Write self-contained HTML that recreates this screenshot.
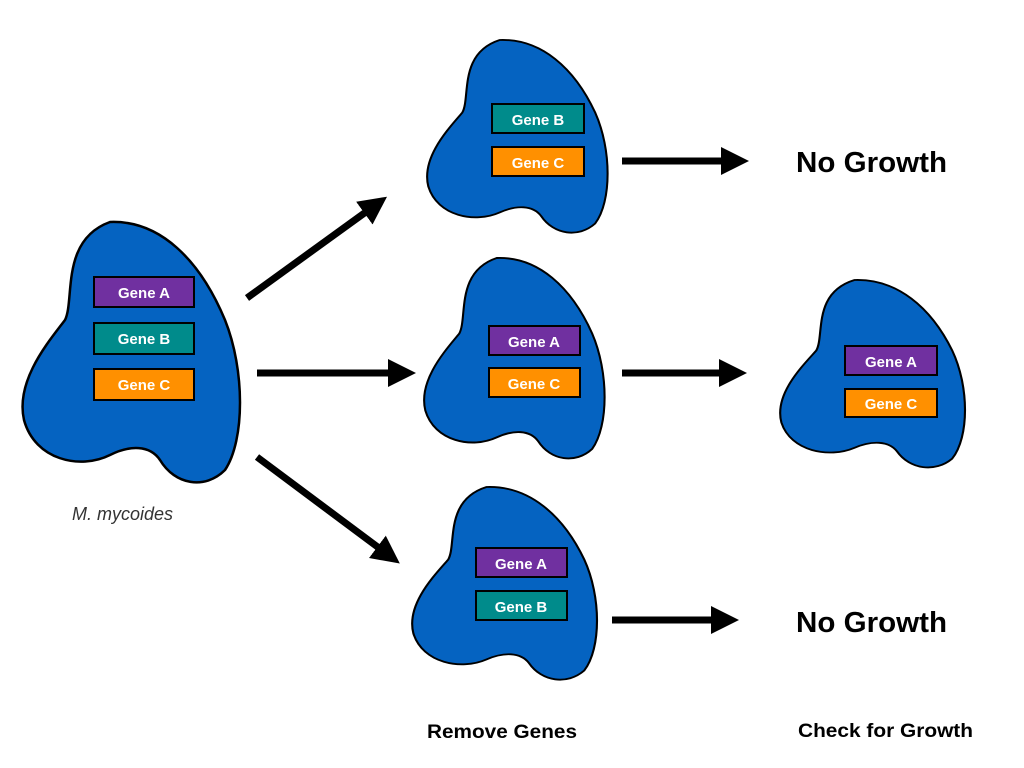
<!DOCTYPE html>
<html><head><style>body{margin:0;background:#fff}svg{display:block}</style></head><body>
<svg width="1024" height="768" viewBox="0 0 1024 768" xmlns="http://www.w3.org/2000/svg" font-family="Liberation Sans, sans-serif">
<defs>
<path id="b" d="M90 0 C140 -2 180 38 205 98 C225 148 225 218 205 248 C185 268 155 263 140 238 C130 223 110 223 90 233 C60 248 15 238 4 198 C-5 158 30 118 45 98 C55 78 40 18 90 0 Z" fill="#0563c1" stroke="#000" stroke-width="2.5"/>
<marker id="ah" markerWidth="4" markerHeight="4" refX="1" refY="2" orient="auto" markerUnits="strokeWidth"><path d="M0 0 L4 2 L0 4 Z" fill="#000"/></marker>
</defs>
<use href="#b" transform="translate(20,222)"/>
<use href="#b" transform="translate(425,40) scale(0.83,0.74)"/>
<use href="#b" transform="translate(422,258) scale(0.83,0.77)"/>
<use href="#b" transform="translate(778,280) scale(0.85,0.72)"/>
<use href="#b" transform="translate(410,487) scale(0.85,0.74)"/>
<g stroke="#000" stroke-width="2" font-size="15" font-weight="bold" fill="#fff" text-anchor="middle">
<rect x="94" y="277" width="100" height="30" fill="#7030a0"/>
<rect x="94" y="323" width="100" height="31" fill="#008b8b"/>
<rect x="94" y="369" width="100" height="31" fill="#ff9000"/>
<rect x="492" y="104" width="92" height="29" fill="#008b8b"/>
<rect x="492" y="147" width="92" height="29" fill="#ff9000"/>
<rect x="489" y="326" width="91" height="29" fill="#7030a0"/>
<rect x="489" y="368" width="91" height="29" fill="#ff9000"/>
<rect x="845" y="346" width="92" height="29" fill="#7030a0"/>
<rect x="845" y="389" width="92" height="28" fill="#ff9000"/>
<rect x="476" y="548" width="91" height="29" fill="#7030a0"/>
<rect x="476" y="591" width="91" height="29" fill="#008b8b"/>
</g>
<g font-size="15" font-weight="bold" fill="#fff" text-anchor="middle">
<text x="144" y="298">Gene A</text><text x="144" y="344">Gene B</text><text x="144" y="390">Gene C</text>
<text x="538" y="125">Gene B</text><text x="538" y="168">Gene C</text>
<text x="534" y="347">Gene A</text><text x="534" y="389">Gene C</text>
<text x="891" y="367">Gene A</text><text x="891" y="409">Gene C</text>
<text x="521" y="569">Gene A</text><text x="521" y="612">Gene B</text>
</g>
<g stroke="#000" stroke-width="7" marker-end="url(#ah)">
<line x1="247" y1="298" x2="370" y2="209"/>
<line x1="257" y1="373" x2="395" y2="373"/>
<line x1="257" y1="457" x2="383" y2="551"/>
<line x1="622" y1="161" x2="728" y2="161"/>
<line x1="622" y1="373" x2="726" y2="373"/>
<line x1="612" y1="620" x2="718" y2="620"/>
</g>
<g font-weight="bold" fill="#000">
<text x="796" y="172" font-size="29" textLength="151" lengthAdjust="spacingAndGlyphs">No Growth</text>
<text x="796" y="632" font-size="29" textLength="151" lengthAdjust="spacingAndGlyphs">No Growth</text>
<text x="427" y="738" font-size="19" textLength="150" lengthAdjust="spacingAndGlyphs">Remove Genes</text>
<text x="798" y="737" font-size="19" textLength="175" lengthAdjust="spacingAndGlyphs">Check for Growth</text>
</g>
<text x="72" y="520" font-size="18" font-style="italic" fill="#333">M. mycoides</text>
</svg>
</body></html>
